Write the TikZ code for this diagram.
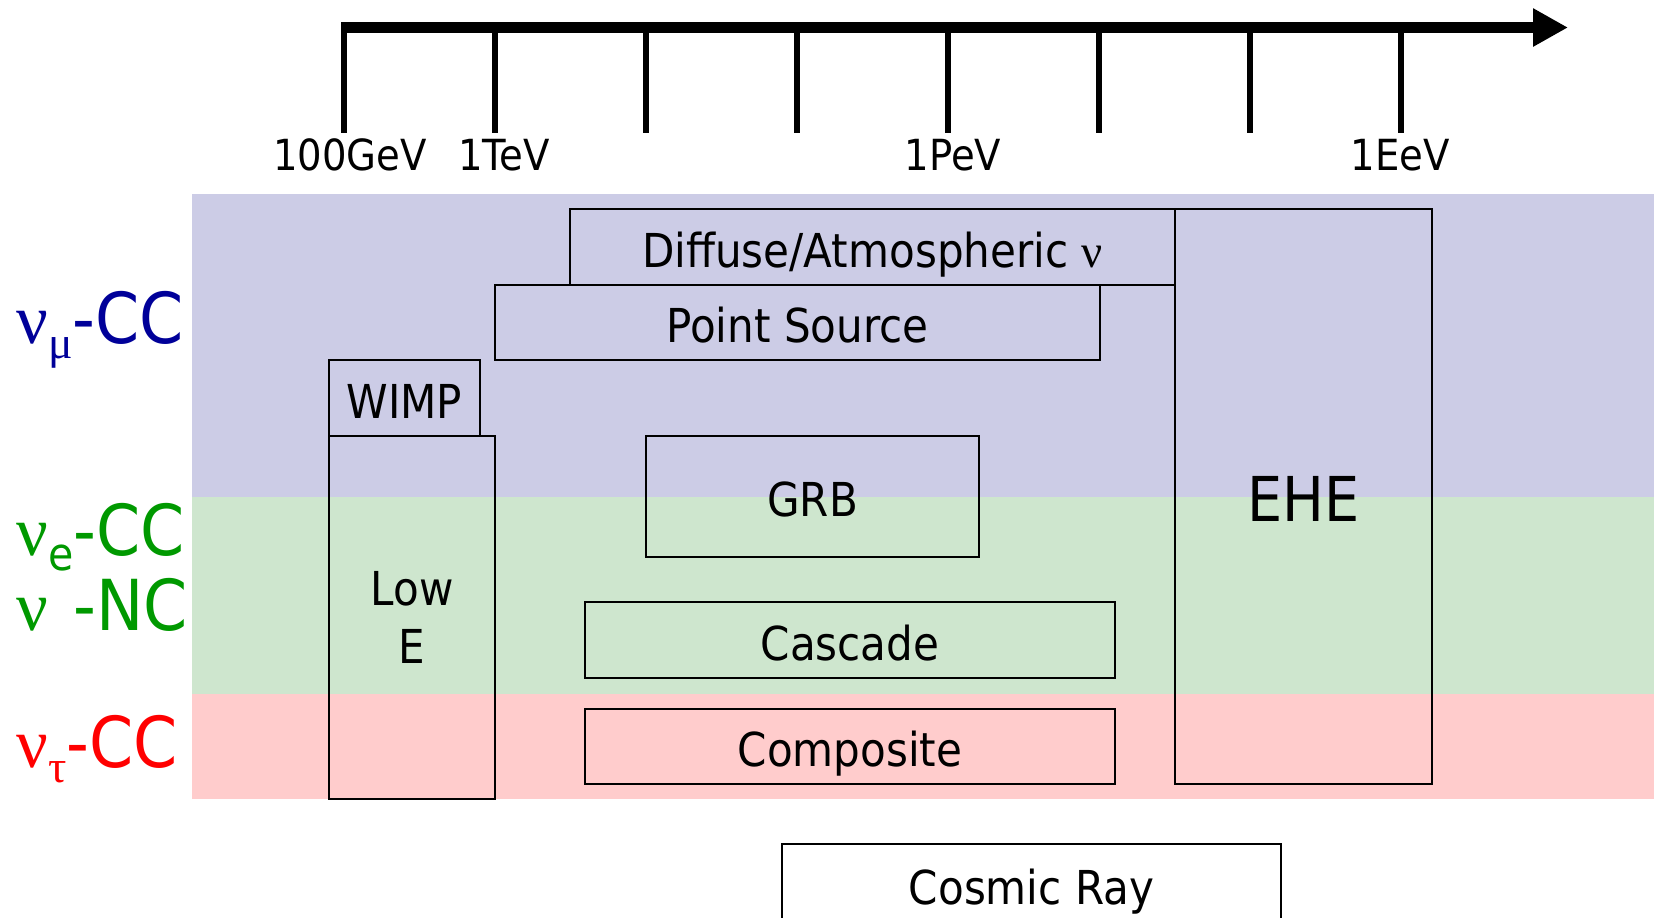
\documentclass[tikz,border=0pt]{standalone}
\usepackage{fontspec}
\setmainfont{DejaVu Sans}[FakeStretch=0.9]
\newfontfamily\grk{Liberation Serif}
\usetikzlibrary{arrows.meta}

\definecolor{mubg}{RGB}{204,204,230}
\definecolor{ebg}{RGB}{206,230,206}
\definecolor{taubg}{RGB}{255,204,204}
\definecolor{mufg}{RGB}{0,0,153}
\definecolor{efg}{RGB}{0,153,0}
\definecolor{taufg}{RGB}{255,0,0}

% neutrino with lowered flavour index
\newcommand{\flav}[1]{{\grk ν}\raisebox{-4.5pt}[0pt][0pt]{\fontsize{13}{13}\selectfont #1}}

\begin{document}
\begin{tikzpicture}[
    srcbox/.style={
        rectangle, draw=black, line width=0.6pt,
        inner sep=0pt, align=center,
        text height=11.4pt, text depth=0pt,
        font=\fontsize{13.3}{16.5}\selectfont
    },
    flavour/.style={
        anchor=base west, inner sep=0pt,
        font=\fontsize{20}{20}\selectfont
    },
    energy/.style={
        anchor=base, inner sep=0pt,
        font=\fontsize{12.2}{14}\selectfont
    }
]
\useasboundingbox (0,0) rectangle (16.54,-9.17);
\clip (0,0) rectangle (16.54,-9.17);

% Interaction bands
\fill[mubg] (1.92,-1.94) rectangle (16.54,-4.97);
\fill[ebg] (1.92,-4.97) rectangle (16.54,-6.935);
\fill[taubg] (1.92,-6.935) rectangle (16.54,-7.985);

% Energy axis with decade ticks
\foreach \i in {0,...,7} {
    \coordinate (tick\i) at ({3.44+1.51*\i},-0.275);
    \draw[line width=1.9pt] (tick\i) -- ++(0,-1.055);
}
\coordinate (axisend) at (15.68,-0.275);
\draw[line width=3.3pt, -{Triangle[length=3.5mm, width=3.6mm]}]
    ([xshift=-0.3mm]tick0) -- (axisend);

\node[energy] (e100gev) at (3.50,-1.70) {100GeV};
\node[energy] (e1tev) at (5.04,-1.70) {1TeV};
\node[energy] (e1pev) at (9.53,-1.70) {1PeV};
\node[energy] (e1eev) at (14.00,-1.70) {1EeV};

% Channels
\node[flavour, text=mufg] (numu) at (0.16,-3.43) {\flav{\grk μ}-CC};
\node[flavour, text=efg] (nue) at (0.16,-5.55) {\flav{e}-CC};
\node[flavour, text=efg] (nunc) at (0.16,-6.30) {\flav{\phantom{e}}-NC};
\node[flavour, text=taufg] (nutau) at (0.16,-7.67) {\flav{\grk τ}-CC};

% Analyses
\node[srcbox, minimum width=6.05cm, minimum height=0.76cm] (diffuse) at (8.725,-2.47) {Diffuse/Atmospheric {\grk ν}};
\node[srcbox, minimum width=6.05cm, minimum height=0.75cm] (pointsrc) at (7.975,-3.225) {Point Source};
\node[srcbox, minimum width=2.57cm, minimum height=5.75cm,
      text height=14.5pt, font=\fontsize{17.6}{20}\selectfont] (ehe) at (13.035,-4.965) {EHE};
\node[srcbox, minimum width=1.51cm, minimum height=0.76cm] (wimp) at (4.045,-3.98) {WIMP};
\node[srcbox, minimum width=1.66cm, minimum height=3.63cm,
      text height={}, text depth={}] (lowe) at (4.12,-6.175) {Low\\E};
\node[srcbox, minimum width=3.33cm, minimum height=1.21cm] (grb) at (8.125,-4.965) {GRB};
\node[srcbox, minimum width=5.30cm, minimum height=0.76cm] (cascade) at (8.50,-6.40) {Cascade};
\node[srcbox, minimum width=5.30cm, minimum height=0.75cm] (composite) at (8.50,-7.465) {Composite};
\node[srcbox, minimum width=4.99cm, minimum height=0.81cm] (cosmic) at (10.315,-8.845) {Cosmic Ray};

\end{tikzpicture}
\end{document}
